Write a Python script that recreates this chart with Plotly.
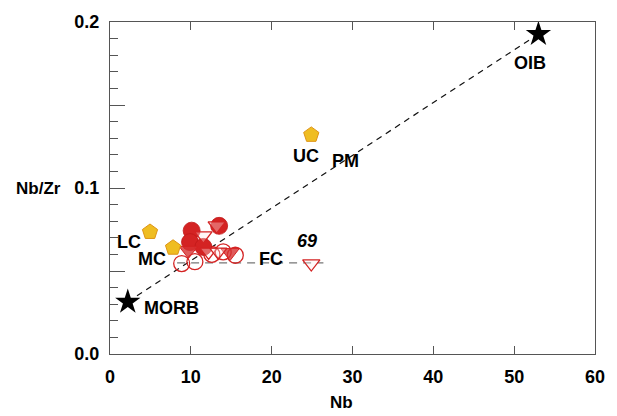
import plotly.graph_objects as go

# End-member reservoirs (stars)
ref_names = ["MORB", "OIB"]
ref_nb = [2.2, 53.0]
ref_nbzr = [0.0314, 0.1927]

# Crustal reservoirs (pentagons)
crust_names = ["UC", "LC", "MC"]
crust_nb = [24.9, 4.95, 7.8]
crust_nbzr = [0.132, 0.0735, 0.064]

# Sample groups
fill_circ_nb = [10.1, 13.5, 9.9, 11.55]
fill_circ_nbzr = [0.0743, 0.0772, 0.0674, 0.0645]

fill_tri_nb = [9.7, 14.85]
fill_tri_nbzr = [0.0624, 0.0611]

open_circ_nb = [8.87, 10.5, 14.0, 15.5, 12.6]
open_circ_nbzr = [0.0545, 0.0556, 0.0615, 0.0595, 0.0600]

open_tri_nb = [13.2, 11.55, 12.2, 13.4, 24.9]
open_tri_nbzr = [0.0773, 0.0713, 0.0615, 0.0615, 0.0545]

# FC trend (horizontal)
fc_nb = [8.3, 26.4]
fc_nbzr = [0.0549, 0.0549]

# Label text and anchor positions
label_text = ["MORB", "OIB", "UC", "PM", "LC", "MC", "FC"]
label_nb = [7.6, 52.0, 24.3, 29.1, 2.35, 5.2, 19.9]
label_nbzr = [0.0279, 0.1755, 0.119, 0.116, 0.0676, 0.0575, 0.057]

RED = "#d42323"
GOLD = "#efbd22"
GOLD_LINE = "#de9416"
FONT = "Liberation Sans, Arial, sans-serif"
AXIS_GREY = "#555"

fig = go.Figure()

# MORB-OIB mixing line
fig.add_trace(go.Scatter(x=ref_nb, y=ref_nbzr, mode="lines",
                         line=dict(color="#111", width=1.2, dash="6px,5px"),
                         hoverinfo="skip"))
# FC line
fig.add_trace(go.Scatter(x=fc_nb, y=fc_nbzr, mode="lines",
                         line=dict(color="#777", width=1.3, dash="8px,6px"),
                         hoverinfo="skip"))

fig.add_trace(go.Scatter(x=open_circ_nb, y=open_circ_nbzr, mode="markers",
                         marker=dict(symbol="circle-open", size=16, color=RED,
                                     line=dict(color=RED, width=1.3))))
fig.add_trace(go.Scatter(x=fill_circ_nb, y=fill_circ_nbzr, mode="markers",
                         marker=dict(symbol="circle", size=17, color=RED,
                                     line=dict(color="#c01818", width=0.8))))
fig.add_trace(go.Scatter(x=fill_tri_nb, y=fill_tri_nbzr, mode="markers",
                         marker=dict(symbol="triangle-down", size=16,
                                     color="rgba(215,50,50,0.8)",
                                     line=dict(color=RED, width=1))))
fig.add_trace(go.Scatter(x=open_tri_nb, y=open_tri_nbzr, mode="markers",
                         marker=dict(symbol="triangle-down", size=15,
                                     color="rgba(255,235,235,0.35)",
                                     line=dict(color=RED, width=1.3))))
fig.add_trace(go.Scatter(x=crust_nb, y=crust_nbzr, mode="markers",
                         marker=dict(symbol="pentagon", size=16, color=GOLD,
                                     line=dict(color=GOLD_LINE, width=1))))
fig.add_trace(go.Scatter(x=ref_nb, y=ref_nbzr, mode="markers",
                         marker=dict(symbol="star", size=19, color="black",
                                     line=dict(width=0))))

for t, xv, yv in zip(label_text, label_nb, label_nbzr):
    fig.add_annotation(x=xv, y=yv, text=t, showarrow=False,
                       font=dict(family=FONT, size=18, color="black", weight="bold"))

fig.add_annotation(x=24.4, y=0.068, text="<i>69</i>", showarrow=False,
                   font=dict(family=FONT, size=18, color="black", weight="bold"))

# Axis titles
fig.add_annotation(xref="paper", yref="y", x=-0.148, y=0.1, text="Nb/Zr",
                   showarrow=False, xanchor="center",
                   font=dict(family=FONT, size=17, color="black", weight="bold"))
fig.add_annotation(xref="x", yref="paper", x=28.7, y=-0.145, text="Nb",
                   showarrow=False, yanchor="middle",
                   font=dict(family=FONT, size=17, color="black", weight="bold"))

axis_common = dict(showline=True, linecolor=AXIS_GREY, linewidth=1.3,
                   showgrid=False, zeroline=False, ticks="inside",
                   tickcolor=AXIS_GREY, tickwidth=1.3,
                   tickfont=dict(family=FONT, size=18, color="black", weight="bold"))

# x ticks repeat along the top edge; the right edge is a plain line
fig.update_xaxes(range=[0, 60], tickvals=[0, 10, 20, 30, 40, 50, 60],
                 ticklen=8, ticklabelstandoff=6, mirror="ticks", **axis_common)
fig.update_yaxes(range=[0, 0.2], tickvals=[0, 0.05, 0.1, 0.15, 0.2],
                 ticktext=["0.0", "", "0.1", "", "0.2"], ticklen=15,
                 ticklabelstandoff=6, mirror=True,
                 minor=dict(dtick=0.01, ticklen=8, ticks="inside",
                            tickcolor=AXIS_GREY, tickwidth=1.3),
                 **axis_common)

fig.update_layout(width=617, height=416, showlegend=False,
                  margin=dict(l=110, r=22, t=17, b=62),
                  plot_bgcolor="white", paper_bgcolor="white",
                  font=dict(family=FONT))

fig.write_html("out.html")
